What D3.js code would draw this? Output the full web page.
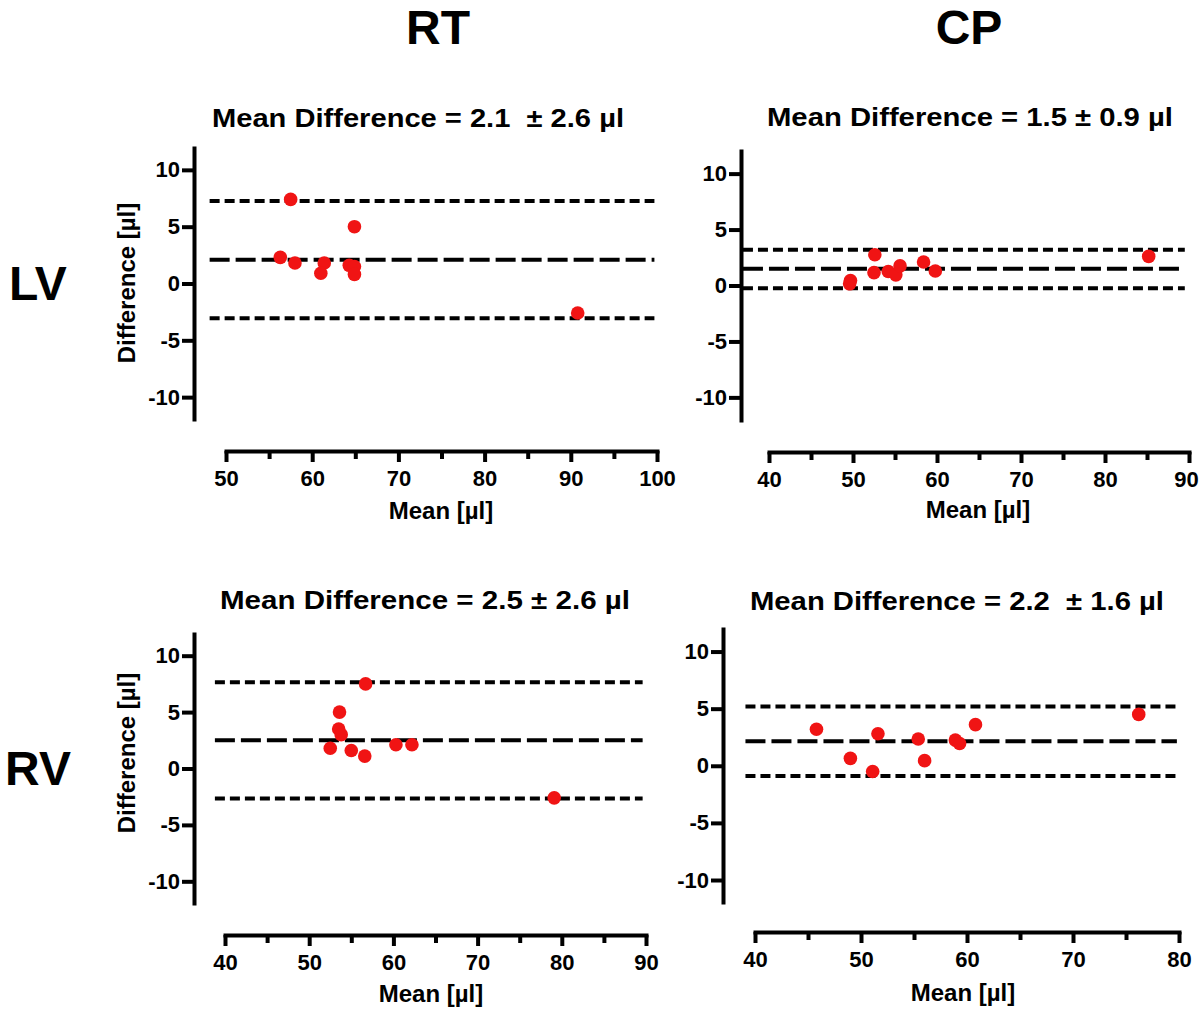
<!DOCTYPE html>
<html>
<head>
<meta charset="utf-8">
<script src="https://cdn.jsdelivr.net/npm/d3@7"></script>
<style>
  html, body { margin: 0; padding: 0; background: #fff; }
  svg { display: block; }
  text { font-family: "Liberation Sans", Arial, Helvetica, sans-serif; font-weight: bold; fill: #000; white-space: pre; }
</style>
</head>
<body>
<svg id="chart" width="1200" height="1009"></svg>
<script>
// ---------------- DATA ----------------
const columnLabels = ["RT", "CP"];
const rowLabels = ["LV", "RV"];
const panelTitles = [
  "Mean Difference = 2.1  \u00B1 2.6 \u00B5l",
  "Mean Difference = 1.5 \u00B1 0.9 \u00B5l",
  "Mean Difference = 2.5 \u00B1 2.6 \u00B5l",
  "Mean Difference = 2.2  \u00B1 1.6 \u00B5l"
];
const xAxisTitle = "Mean [\u00B5l]";
const yAxisTitle = "Difference [\u00B5l]";
const yTicks = [-10, -5, 0, 5, 10];

// RT / LV
const rtLvMean = [57.5, 64.9, 56.3, 58.0, 61.4, 61.0, 64.3, 64.9, 64.9, 90.8];
const rtLvDiff = [7.4, 5.0, 2.3, 1.8, 1.8, 0.9, 1.6, 1.5, 0.8, -2.6];
const rtLvLines = [7.25, 2.1, -3.05];   // upper limit, bias, lower limit
const rtLvXTicks = [50, 60, 70, 80, 90, 100];

// CP / LV
const cpLvMean = [49.7, 49.6, 52.6, 52.5, 54.2, 55.1, 55.6, 58.4, 59.8, 85.2];
const cpLvDiff = [0.45, 0.15, 2.75, 1.15, 1.25, 0.95, 1.75, 2.1, 1.3, 2.6];
const cpLvLines = [3.2, 1.5, -0.25];
const cpLvXTicks = [40, 50, 60, 70, 80, 90];

// RT / RV
const rtRvMean = [56.7, 53.6, 53.5, 53.8, 52.5, 55.0, 56.6, 60.3, 62.2, 79.1];
const rtRvDiff = [7.5, 5.0, 3.5, 3.0, 1.8, 1.6, 1.1, 2.1, 2.1, -2.6];
const rtRvLines = [7.65, 2.5, -2.65];
const rtRvXTicks = [40, 50, 60, 70, 80, 90];

// CP / RV
const cpRvMean = [45.8, 49.0, 51.1, 51.6, 55.4, 56.0, 58.9, 59.3, 60.8, 76.2];
const cpRvDiff = [3.2, 0.65, -0.5, 2.8, 2.35, 0.45, 2.25, 1.95, 3.6, 4.5];
const cpRvLines = [5.2, 2.15, -0.9];
const cpRvXTicks = [40, 50, 60, 70, 80];

// ---------------- LAYOUT ----------------
const layouts = [
  { mean: rtLvMean, diff: rtLvDiff, lines: rtLvLines, xTicks: rtLvXTicks, title: panelTitles[0],
    yAxisX: 194, yTop: 146, yBot: 421, yDom: [-12.1, 12.1],
    xAxisY: 451, xL: 226, xR: 657, lineExt: [48.1, 99.7],
    titleX: 418, titleY: 127, titleW: 412, xtX: 441, xtY: 519, ytitle: true, ytX: 127, ytY: 283 },
  { mean: cpLvMean, diff: cpLvDiff, lines: cpLvLines, xTicks: cpLvXTicks, title: panelTitles[1],
    yAxisX: 741, yTop: 149, yBot: 422, yDom: [-12.2, 12.2],
    xAxisY: 452, xL: 769, xR: 1189, lineExt: [36.9, 89.5],
    titleX: 970, titleY: 126, titleW: 406, xtX: 978, xtY: 518, ytitle: false },
  { mean: rtRvMean, diff: rtRvDiff, lines: rtRvLines, xTicks: rtRvXTicks, title: panelTitles[2],
    yAxisX: 194, yTop: 632, yBot: 905, yDom: [-12.1, 12.1],
    xAxisY: 935, xL: 225, xR: 646, lineExt: [38.8, 89.6],
    titleX: 425, titleY: 609, titleW: 410, xtX: 431, xtY: 1002, ytitle: true, ytX: 127, ytY: 753 },
  { mean: cpRvMean, diff: cpRvDiff, lines: cpRvLines, xTicks: cpRvXTicks, title: panelTitles[3],
    yAxisX: 723, yTop: 627, yBot: 904, yDom: [-12.1, 12.15],
    xAxisY: 932, xL: 755, xR: 1179, lineExt: [39.1, 79.8],
    titleX: 957, titleY: 610, titleW: 414, xtX: 963, xtY: 1001, ytitle: false }
];

const svg = d3.select("#chart");
const RED = "#f01414";
const fmt = d => String(d);

// header labels
svg.append("text").attr("x", 438).attr("y", 44).attr("text-anchor", "middle")
  .style("font-size", "48px").text(columnLabels[0]);
svg.append("text").attr("x", 969).attr("y", 44).attr("text-anchor", "middle")
  .style("font-size", "48px").text(columnLabels[1]);
svg.append("text").attr("x", 38).attr("y", 300).attr("text-anchor", "middle")
  .style("font-size", "48px").text(rowLabels[0]);
svg.append("text").attr("x", 38).attr("y", 785).attr("text-anchor", "middle")
  .style("font-size", "48px").text(rowLabels[1]);

layouts.forEach(p => {
  const g = svg.append("g");
  const y = d3.scaleLinear().domain(p.yDom).range([p.yBot, p.yTop]);
  const xDom = [p.xTicks[0], p.xTicks[p.xTicks.length - 1]];
  const x = d3.scaleLinear().domain(xDom).range([p.xL, p.xR]);

  // title
  g.append("text").attr("x", p.titleX).attr("y", p.titleY).attr("text-anchor", "middle")
    .attr("textLength", p.titleW).attr("lengthAdjust", "spacingAndGlyphs")
    .style("font-size", "26px").text(p.title);

  // y axis
  const ya = g.append("g").attr("transform", `translate(${p.yAxisX},0)`)
    .call(d3.axisLeft(y).tickValues(yTicks).tickSize(12).tickSizeOuter(0).tickPadding(2)
      .tickFormat(fmt));
  ya.select(".domain").attr("stroke", "#000").attr("stroke-width", 4);
  ya.selectAll(".tick line").attr("stroke", "#000").attr("stroke-width", 4);
  ya.selectAll(".tick text").style("font-size", "22px").attr("font-family", null).attr("fill", "#000");

  // x axis (minor ticks)
  const minor = d3.range(xDom[0] + 5, xDom[1], 10);
  const xm = g.append("g").attr("transform", `translate(0,${p.xAxisY})`)
    .call(d3.axisBottom(x).tickValues(minor).tickSize(8).tickSizeOuter(0).tickFormat(""));
  xm.select(".domain").remove();
  xm.selectAll(".tick line").attr("stroke", "#000").attr("stroke-width", 4);

  // x axis (major)
  const xa = g.append("g").attr("transform", `translate(0,${p.xAxisY})`)
    .call(d3.axisBottom(x).tickValues(p.xTicks).tickSize(11).tickSizeOuter(0).tickPadding(8)
      .tickFormat(fmt));
  xa.select(".domain").attr("stroke", "#000").attr("stroke-width", 4).attr("stroke-linecap", "square");
  xa.selectAll(".tick line").attr("stroke", "#000").attr("stroke-width", 4);
  xa.selectAll(".tick text").style("font-size", "22px").attr("font-family", null).attr("fill", "#000");
  // keep the last label inside the page edge
  xa.selectAll(".tick text").filter(d => x(d) + 13 > 1200).attr("dx", -3);

  // axis titles
  g.append("text").attr("x", p.xtX).attr("y", p.xtY).attr("text-anchor", "middle")
    .style("font-size", "24px").text(xAxisTitle);
  if (p.ytitle) {
    g.append("text").attr("transform", `translate(${p.ytX},${p.ytY}) rotate(-90)`)
      .attr("text-anchor", "middle").attr("dy", "0.35em")
      .style("font-size", "24px").text(yAxisTitle);
  }

  // reference lines: upper limit, bias, lower limit
  const dashes = ["10,5", "20,6", "10,5"];
  p.lines.forEach((v, i) => {
    g.append("line")
      .attr("x1", x(p.lineExt[0])).attr("x2", x(p.lineExt[1]))
      .attr("y1", y(v)).attr("y2", y(v))
      .attr("stroke", "#000").attr("stroke-width", 4)
      .attr("stroke-dasharray", dashes[i]);
  });

  // points
  g.selectAll("circle.pt").data(p.mean.map((m, i) => [m, p.diff[i]]))
    .enter().append("circle").attr("class", "pt")
    .attr("cx", d => x(d[0])).attr("cy", d => y(d[1])).attr("r", 6.8)
    .attr("fill", RED);
});
</script>
</body>
</html>
